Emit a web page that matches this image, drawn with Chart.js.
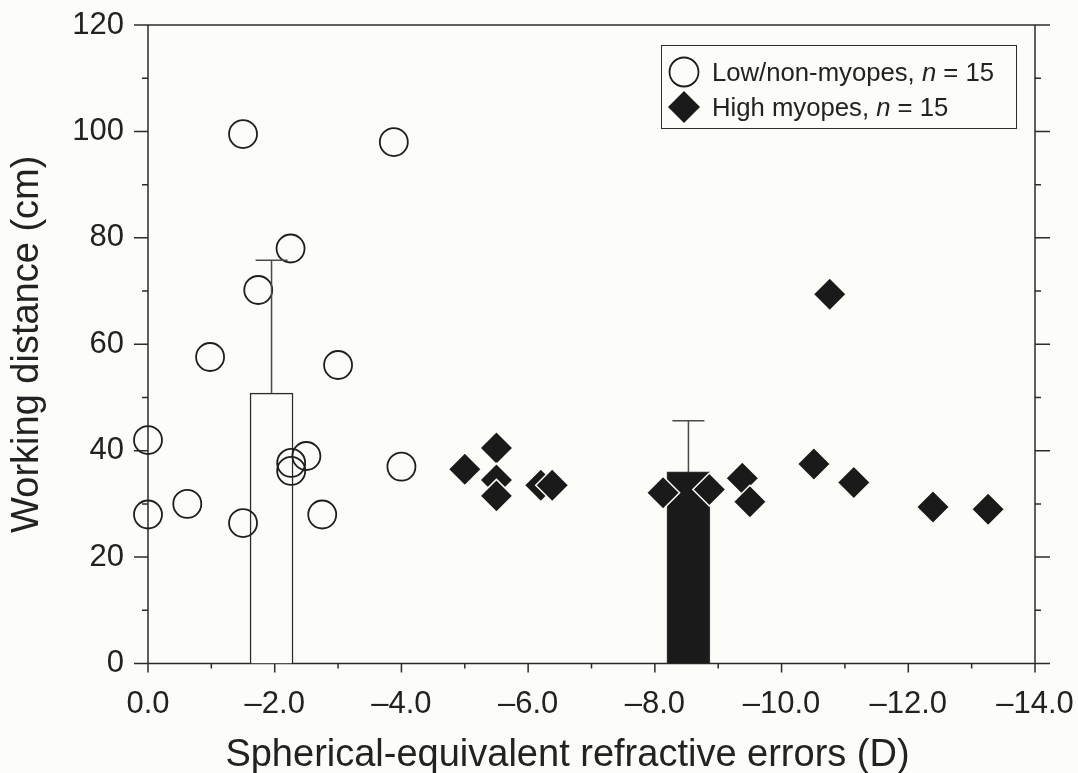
<!DOCTYPE html>
<html>
<head>
<meta charset="utf-8">
<script src="https://cdn.jsdelivr.net/npm/chart.js@4.4.1/dist/chart.umd.min.js"></script>
<style>
  html, body { margin: 0; padding: 0; background: #fcfcf8; }
  #wrap { position: relative; width: 1078px; height: 773px; }
  #legend {
    position: absolute; left: 661px; top: 45px; width: 356px; height: 84px;
    border: 1.5px solid #2b2b2b; box-sizing: border-box;
    font-family: 'Liberation Sans', Arial, sans-serif; font-size: 25.7px; color: #222;
  }
  .row { position: absolute; left: 0; height: 34px; line-height: 34px; white-space: nowrap; }
  .row svg { position: absolute; left: 5px; top: 0; }
  .row span { position: absolute; left: 50px; top: 0; }
</style>
</head>
<body>
<div id="wrap">
  <canvas id="grafico"></canvas>
  <div id="legend">
    <div class="row" style="top:8.5px">
      <svg width="34" height="34"><circle cx="17" cy="17" r="14.5" fill="none" stroke="#1e1e1e" stroke-width="1.8"/></svg>
      <span>Low/non-myopes, <i>n</i> = 15</span>
    </div>
    <div class="row" style="top:44px">
      <svg width="34" height="34"><polygon points="17,1 33,17 17,33 1,17" fill="#1a1a1a"/></svg>
      <span>High myopes, <i>n</i> = 15</span>
    </div>
  </div>
</div>
<script>
// ===== DADOS =====
const LOW_X  = [0, 0, -0.62, -1.5, -0.98, -1.5, -1.74, -2.25, -2.26, -2.26, -2.5, -2.75, -3.0, -3.88, -4.0];
const LOW_Y  = [42, 28, 30, 26.4, 57.6, 99.5, 70.2, 78, 37.7, 36.2, 39, 28, 56.1, 98, 37];

const HIGH_X = [-5.0, -5.5, -5.5, -5.5, -6.2, -6.38, -8.13, -8.86, -9.38, -9.5, -10.51, -10.76, -11.14, -12.39, -13.26];
const HIGH_Y = [36.5, 40.5, 34.5, 31.5, 33.5, 33.5, 32.1, 32.7, 34.8, 30.4, 37.5, 69.4, 34, 29.4, 29];

// médias (barras) e desvio padrão
const BAR_X    = [-1.95, -8.53];
const BAR_MEAN = [50.8, 36.0];
const BAR_SD   = [25.0, 9.6];

const X_TICKS = [0, -2, -4, -6, -8, -10, -12, -14];
const X_TICK_LABELS = ['0.0', '–2.0', '–4.0', '–6.0', '–8.0', '–10.0', '–12.0', '–14.0'];
const X_MINOR = [-1, -3, -5, -7, -9, -11, -13];
const Y_TICKS = [0, 20, 40, 60, 80, 100, 120];
const Y_TICK_LABELS = ['0', '20', '40', '60', '80', '100', '120'];
const Y_MINOR = [10, 30, 50, 70, 90, 110];

const X_TITLE = 'Spherical-equivalent refractive errors (D)';
const Y_TITLE = 'Working distance (cm)';

// ===== ESTILO =====
const FONTE = "'Liberation Sans', Arial, sans-serif";
const COR_EIXO = '#2b2b2b';
const COR_TEXTO = '#222';
const COR_FUNDO = '#fcfcf8';

// ===== PLUGINS =====
// moldura + ticks (maiores e menores) nos quatro lados
const molduraTicks = {
  id: 'molduraTicks',
  beforeDatasetsDraw(chart) {
    const { ctx, chartArea: a, scales: { x, y } } = chart;
    ctx.save();
    ctx.strokeStyle = COR_EIXO;
    ctx.lineWidth = 1.5;
    ctx.beginPath();
    ctx.rect(a.left, a.top, a.right - a.left, a.bottom - a.top);
    Y_TICKS.forEach(v => {
      const p = y.getPixelForValue(v);
      ctx.moveTo(a.left - 14, p); ctx.lineTo(a.left, p);
      ctx.moveTo(a.right, p); ctx.lineTo(a.right + 15, p);
    });
    Y_MINOR.forEach(v => {
      const p = y.getPixelForValue(v);
      ctx.moveTo(a.left - 6, p); ctx.lineTo(a.left, p);
      ctx.moveTo(a.right, p); ctx.lineTo(a.right + 6, p);
    });
    X_TICKS.forEach(v => {
      const p = x.getPixelForValue(v);
      ctx.moveTo(p, a.bottom); ctx.lineTo(p, a.bottom + 9);
    });
    X_MINOR.forEach(v => {
      const p = x.getPixelForValue(v);
      ctx.moveTo(p, a.bottom); ctx.lineTo(p, a.bottom + 5);
    });
    ctx.stroke();
    ctx.restore();
  }
};

// barras de erro (só para cima)
const barrasErro = {
  id: 'barrasErro',
  afterDatasetsDraw(chart) {
    const { ctx, scales: { x, y } } = chart;
    ctx.save();
    ctx.strokeStyle = '#4a4a4a';
    ctx.lineWidth = 1.5;
    ctx.beginPath();
    BAR_X.forEach((bx, i) => {
      const px = x.getPixelForValue(bx);
      const y0 = y.getPixelForValue(BAR_MEAN[i]);
      const y1 = y.getPixelForValue(BAR_MEAN[i] + BAR_SD[i]);
      ctx.moveTo(px, y0); ctx.lineTo(px, y1);
      ctx.moveTo(px - 16, y1); ctx.lineTo(px + 16, y1);
    });
    ctx.stroke();
    ctx.restore();
  }
};

// título do eixo x (levemente deslocado à esquerda como no original)
const tituloX = {
  id: 'tituloX',
  afterDraw(chart) {
    const { ctx, chartArea: a } = chart;
    ctx.save();
    ctx.font = '38px ' + FONTE;
    ctx.fillStyle = COR_TEXTO;
    ctx.textAlign = 'center';
    ctx.textBaseline = 'alphabetic';
    ctx.fillText(X_TITLE, (a.left + a.right) / 2 - 24, 766);
    ctx.restore();
  }
};

// ===== GRÁFICO =====
const ctx = document.getElementById('grafico').getContext('2d');
new Chart(ctx, {
  type: 'scatter',
  data: {
    datasets: [
      {
        type: 'bar',
        label: 'Média',
        data: BAR_X.map((x, i) => ({ x, y: BAR_MEAN[i] })),
        backgroundColor: [COR_FUNDO, '#1a1a1a'],
        borderColor: COR_EIXO,
        borderWidth: 1.5,
        barThickness: 43,
        order: 3,
      },
      {
        label: 'Low/non-myopes',
        data: LOW_X.map((x, i) => ({ x, y: LOW_Y[i] })),
        pointStyle: 'circle',
        pointRadius: 14,
        pointBorderWidth: 1.8,
        pointBackgroundColor: 'rgba(0,0,0,0)',
        pointBorderColor: '#1e1e1e',
        clip: false,
        order: 2,
      },
      {
        label: 'High myopes',
        data: HIGH_X.map((x, i) => ({ x, y: HIGH_Y[i] })),
        pointStyle: 'rectRot',
        pointRadius: 16.5,
        pointBorderWidth: 1.5,
        pointBackgroundColor: '#1a1a1a',
        pointBorderColor: COR_FUNDO,
        clip: false,
        order: 1,
      },
    ]
  },
  options: {
    responsive: true,
    maintainAspectRatio: false,
    animation: false,
    layout: { padding: { top: 25, right: 43, left: 0, bottom: 0 } },
    plugins: {
      legend: { display: false },
      tooltip: { enabled: false },
    },
    scales: {
      x: {
        type: 'linear',
        min: -14,
        max: 0,
        reverse: true,
        offset: false,
        afterBuildTicks: s => { s.ticks = X_TICKS.map(v => ({ value: v })); },
        afterFit: s => { s.height = 109.5; s.paddingLeft = 0; s.paddingRight = 0; },
        ticks: {
          autoSkip: false,
          maxRotation: 0,
          callback: v => X_TICK_LABELS[X_TICKS.indexOf(v)],
          font: { size: 31, family: FONTE },
          color: COR_TEXTO,
          padding: 22,
        },
        grid: { display: false, drawTicks: false },
        border: { display: false },
      },
      y: {
        type: 'linear',
        min: 0,
        max: 120,
        afterBuildTicks: s => { s.ticks = Y_TICKS.map(v => ({ value: v })); },
        afterFit: s => { s.width = 148; s.paddingTop = 0; s.paddingBottom = 0; },
        ticks: {
          callback: v => Y_TICK_LABELS[Y_TICKS.indexOf(v)],
          font: { size: 31, family: FONTE },
          color: COR_TEXTO,
          padding: 24,
        },
        grid: { display: false, drawTicks: false },
        border: { display: false },
        title: {
          display: true,
          text: Y_TITLE,
          font: { size: 38, family: FONTE, lineHeight: 1.2 },
          color: COR_TEXTO,
          padding: { top: 5, bottom: 0 },
        },
      },
    },
  },
  plugins: [molduraTicks, barrasErro, tituloX],
});
</script>
</body>
</html>
